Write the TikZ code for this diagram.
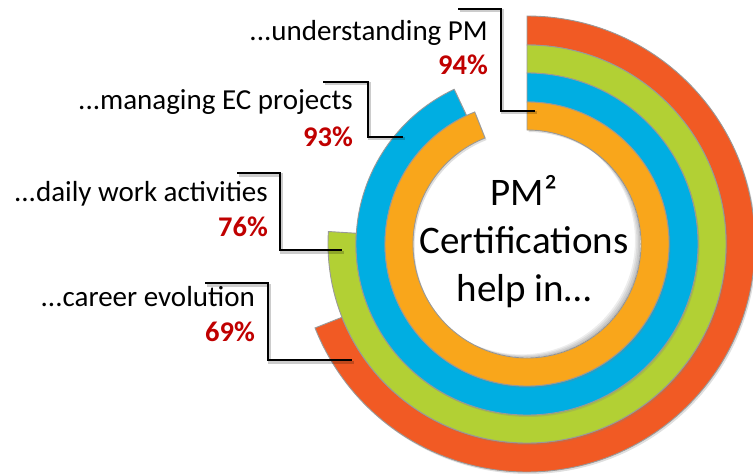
\documentclass[tikz,border=0pt]{standalone}
\usepackage{fontspec}
\setmainfont{Carlito}
\usetikzlibrary{shadows}

\definecolor{ringred}{RGB}{241,90,36}
\definecolor{ringgreen}{RGB}{178,208,52}
\definecolor{ringblue}{RGB}{0,174,226}
\definecolor{ringorange}{RGB}{249,166,27}
\definecolor{pctred}{RGB}{192,0,0}

\tikzset{
    ring/.style={draw=gray!80, line width=0.9pt,
        drop shadow={opacity=0.25, shadow xshift=1.5pt, shadow yshift=-2pt}},
    leader/.style={draw=black, line width=1.6pt,
        preaction={draw=black, opacity=0.2, line width=3pt,
            transform canvas={xshift=1.5pt, yshift=-2pt}}},
    lbl/.style={anchor=base east, inner sep=0pt, font=\fontsize{29}{34}\selectfont},
    pct/.style={anchor=base east, inner sep=0pt, text=pctred,
        font=\fontsize{28.5}{34}\selectfont\bfseries}
}

\begin{document}
\begin{tikzpicture}[x=1pt, y=1pt]
        \useasboundingbox (0,0) rectangle (753,475);

        % Draw rings (outer first)
        \begin{scope}[shift={(527,231)}]
            \foreach \ri/\ro/\pct/\col in {
                199/228/69/ringred,
                171/199/76/ringgreen,
                142/171/93/ringblue,
                114/142/94/ringorange} {
                \pgfmathsetmacro\ea{90-3.6*\pct}
                \fill[ring, fill=\col] (90:\ro) arc[start angle=90, end angle=\ea, radius=\ro]
                    -- (\ea:\ri) arc[start angle=\ea, end angle=90, radius=\ri] -- cycle;
            }
            % Soft shadow inside the hole
            \begin{scope}
                \clip (0,0) circle (113.5);
                \foreach \s in {1.5,3,4.5,6}
                    \fill[black, opacity=0.07, even odd rule]
                        (0,0) circle (114) (-\s,0.6*\s) circle (114);
            \end{scope}
        \end{scope}

        % Centre text
        \node[align=center, font=\fontsize{39}{48}\selectfont] (ctr) at (524,233)
            {PM²\\Certifications\\help in…};

        % Labels
        \node[lbl] (undl) at (488,434) {...understanding PM};
        \node[pct] (undp) at (488,400) {94\%};
        \node[lbl] (manl) at (353,365) {...managing EC projects};
        \node[pct] (manp) at (353,328) {93\%};
        \node[lbl] (dayl) at (268,273) {...daily work activities};
        \node[pct] (dayp) at (268,239) {76\%};
        \node[lbl] (carl) at (255,169) {...career evolution};
        \node[pct] (carp) at (255,134) {69\%};

        % Leader lines
        \coordinate (unda) at (458,466);
        \coordinate (unde) at (535,364);
        \coordinate (mana) at (323,393);
        \coordinate (mane) at (403,338);
        \coordinate (daya) at (237,302);
        \coordinate (daye) at (342,225);
        \coordinate (cara) at (205,192);
        \coordinate (care) at (352,115);
        \draw[leader] (unda) -- ++(43,0) |- (unde);
        \draw[leader] (mana) -- ++(45,0) |- (mane);
        \draw[leader] (daya) -- ++(43,0) |- (daye);
        \draw[leader] (cara) -- ++(63,0) |- (care);

    \end{tikzpicture}
\end{document}
